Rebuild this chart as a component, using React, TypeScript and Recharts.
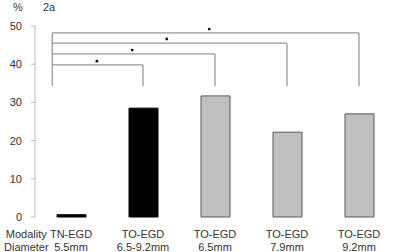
import React from "react";
import { BarChart, Bar, XAxis, YAxis, Cell, ReferenceLine, ReferenceDot } from "recharts";

const modalities = ["TN-EGD", "TO-EGD", "TO-EGD", "TO-EGD", "TO-EGD"];
const diameters = ["5.5mm", "6.5-9.2mm", "6.5mm", "7.9mm", "9.2mm"];
const values = [0.6, 28.5, 31.7, 22.2, 27.0];
const barColors = ["#000000", "#000000", "#c0c0c0", "#c0c0c0", "#c0c0c0"];
const barStrokes = ["#000000", "#000000", "#595959", "#595959", "#595959"];
const yTicks = [0, 10, 20, 30, 40, 50];

// significance brackets (x in category-band units, y in %)
const bracketStart = 0.24;
const bracketEnds = [1.5, 2.5, 3.5, 4.5];
const bracketLevels = [39.8, 42.7, 45.5, 48.2];
const bracketBottom = 34.3;
const starX = [0.86, 1.35, 1.83, 2.42];
const starY = [40.8, 43.7, 46.6, 49.2];

const data = modalities.map((m, i) => ({ name: `${m}|${diameters[i]}`, pos: i + 0.5, value: values[i] }));

const font = "'Liberation Sans', Arial, sans-serif";

const CatTick = (props: any) => {
  const { x, y, payload } = props;
  const [m, d] = String(payload.value).split("|");
  return (
    <g>
      <text x={x} y={y + 12.5} textAnchor="middle" fontSize={11} fill="#333" fontFamily={font}>{m}</text>
      <text x={x} y={y + 25.5} textAnchor="middle" fontSize={11} fill="#333" fontFamily={font}>{d}</text>
    </g>
  );
};

export default function App() {
  return (
    <div style={{ position: "absolute", left: 0, top: 0, width: 398, height: 252, background: "#fff" }}>
      <BarChart width={398} height={252} data={data} margin={{ top: 26, right: 3, bottom: 0, left: 0 }}>
        <XAxis xAxisId="num" type="number" dataKey="pos" domain={[0, 5]} ticks={[0, 1, 2, 3, 4, 5]} height={0}
          tickFormatter={() => ""} stroke="#bbb" tickSize={4} axisLine={{ stroke: "#bbb" }} tickLine={{ stroke: "#bbb" }} allowDataOverflow />
        <XAxis xAxisId="cat" dataKey="name" height={35} axisLine={false} tickLine={false} tick={<CatTick />} interval={0} />
        <YAxis domain={[0, 50]} ticks={yTicks} width={35} tickSize={4} tickMargin={9}
          axisLine={{ stroke: "#bbb" }} tickLine={{ stroke: "#bbb" }}
          tick={{ fontSize: 11, fill: "#333", fontFamily: font }} />
        <Bar xAxisId="cat" dataKey="value" barSize={29} isAnimationActive={false}>
          {data.map((_, i) => (
            <Cell key={i} fill={barColors[i]} stroke={barStrokes[i]} strokeWidth={1} />
          ))}
        </Bar>
        {bracketEnds.map((e, i) => (
          <ReferenceLine key={"h" + i} xAxisId="num" stroke="#999" strokeWidth={1.3} ifOverflow="visible"
            segment={[{ x: bracketStart, y: bracketLevels[i] }, { x: e, y: bracketLevels[i] }]} />
        ))}
        {bracketEnds.map((e, i) => (
          <ReferenceLine key={"v" + i} xAxisId="num" stroke="#999" strokeWidth={1.3} ifOverflow="visible"
            segment={[{ x: e, y: bracketBottom }, { x: e, y: bracketLevels[i] }]} />
        ))}
        <ReferenceLine xAxisId="num" stroke="#999" strokeWidth={1.3} ifOverflow="visible"
          segment={[{ x: bracketStart, y: bracketBottom }, { x: bracketStart, y: bracketLevels[3] }]} />
        {starX.map((sx, i) => (
          <ReferenceDot key={"s" + i} xAxisId="num" x={sx} y={starY[i]} r={1.4} fill="#111" stroke="none" ifOverflow="visible" />
        ))}
      </BarChart>
      <div style={{ position: "absolute", left: 13, top: 1, fontSize: 11, fontFamily: font, color: "#333" }}>%</div>
      <div style={{ position: "absolute", left: 43, top: 1, fontSize: 11, fontFamily: font, color: "#333" }}>2a</div>
      <div style={{ position: "absolute", left: 4, top: 227.5, fontSize: 11, fontFamily: font, color: "#333", textAlign: "center", lineHeight: "13px" }}>
        Modality<br />Diameter
      </div>
    </div>
  );
}
